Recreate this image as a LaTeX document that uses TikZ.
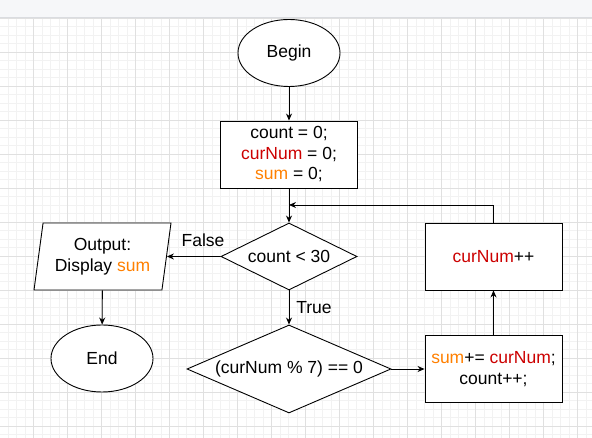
\documentclass[tikz,border=0pt]{standalone}
\usepackage{fontspec}
\setmainfont{Liberation Sans}
\usetikzlibrary{shapes.geometric,arrows.meta}

\definecolor{numred}{RGB}{204,0,0}
\definecolor{sumorange}{RGB}{255,128,0}
\definecolor{gridminor}{RGB}{242,242,242}
\definecolor{gridmajor}{RGB}{224,224,224}
\definecolor{bandgray}{RGB}{246,247,249}
\definecolor{bandline}{RGB}{218,220,224}
\newcommand{\curnum}{\textcolor{numred}{curNum}}
\newcommand{\sumvar}{\textcolor{sumorange}{sum}}

\begin{document}
\begin{tikzpicture}[x=1pt, y=-1pt, line width=0.9pt, >={Stealth[length=7pt,width=6pt]},
  font=\fontsize{17.5}{20.5}\selectfont,
  terminal/.style={ellipse, draw, fill=white, minimum width=102pt, minimum height=67pt, inner sep=0pt},
  process/.style={rectangle, draw, fill=white, minimum width=137pt, minimum height=67pt, align=center, inner sep=0pt},
  decision/.style={diamond, draw, fill=white, aspect=2, inner sep=0pt},
  io/.style={trapezium, draw, fill=white, trapezium left angle=76, trapezium right angle=104, trapezium stretches body, minimum width=137pt, minimum height=67pt, align=center, inner sep=0pt}]

% grid
\useasboundingbox (0,0) rectangle (592,438);
\fill [white] (0,0) rectangle (592,438);
\foreach \i in {0,...,70} \draw [gridminor, line width=0.6pt] (-0.5+8.5*\i,18) -- (-0.5+8.5*\i,438);
\foreach \i in {0,...,49} \draw [gridminor, line width=0.6pt] (0,18+8.5*\i) -- (592,18+8.5*\i);
\foreach \i in {0,...,17} \draw [gridmajor, line width=0.6pt] (-0.5+34*\i,18) -- (-0.5+34*\i,438);
\foreach \i in {0,...,12} \draw [gridmajor, line width=0.6pt] (0,18+34*\i) -- (592,18+34*\i);
\fill [bandgray] (0,0) rectangle (592,17);
\draw [bandline] (0,17.5) -- (592,17.5);

\node [terminal] (v1) at (289,53) {Begin};
\node [process] (v2) at (289,154.5) {count = 0;\\ \curnum{} = 0;\\ \sumvar{} = 0;};
\node [decision, minimum width=136pt, minimum height=67pt] (v3) at (289,256.5) {count < 30};
\node [decision, minimum width=204pt, minimum height=88pt, aspect=2.3] (v4) at (289,369) {(curNum \% 7) == 0};
\node [io] (v5) at (102.5,256.5) {Output:\\ Display \sumvar};
\node [terminal] (v6) at (102,358.5) {End};
\node [process] (v7) at (493.5,369) {\sumvar+= \curnum;\\ count++;};
\node [process] (v8) at (493.5,256.5) {\curnum++};
\coordinate (c1) at (289,205);

\draw [->] (v1) -- (v2);
\draw [->] (v2) -- (v3);
\draw [->] (v3) -- (v4);
\draw [->] (v3) -- (v5);
\draw [->] (v5) -- (v6);
\draw [->] (v4) -- (v7);
\draw [->] (v7) -- (v8);
\draw [->] (v8) |- (c1);

\node (l1) at (203,240) {False};
\node (l2) at (314,308) {True};
\end{tikzpicture}
\end{document}
